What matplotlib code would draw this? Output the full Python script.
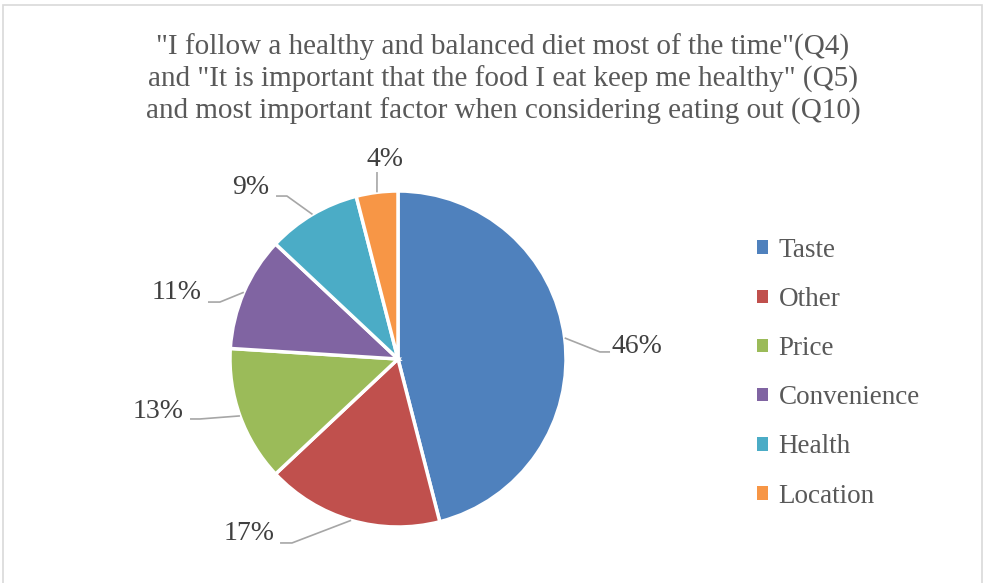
import matplotlib
matplotlib.use("Agg")
import matplotlib.pyplot as plt
from matplotlib.patches import Patch, Rectangle
import numpy as np

# ---- data ----
categories = ["Taste", "Other", "Price", "Convenience", "Health", "Location"]
shares = [46, 17, 13, 11, 9, 4]
colors = ["#4F81BD", "#C0504D", "#9BBB59", "#8064A2", "#4BACC6", "#F79646"]
title_lines = ['"I follow a healthy and balanced diet most of the time"(Q4)',
               'and "It is important that the food I eat keep me healthy" (Q5)',
               'and most important factor when considering eating out (Q10)']

# ---- layout (label text centres and leader elbows, in pie-radius units) ----
label_pos = [(1.423, 0.077), (-0.887, -1.036), (-1.429, -0.310),
             (-1.315, 0.393), (-0.875, 1.018), (-0.077, 1.185)]
elbows = [((1.202, 0.042), (1.262, 0.042)),
          ((-0.631, -1.095), (-0.702, -1.095)),
          ((-1.179, -0.357), (-1.238, -0.357)),
          ((-1.060, 0.339), (-1.131, 0.339)),
          ((-0.661, 0.970), (-0.726, 0.970)),
          ((-0.125, 1.113), (-0.125, 1.113))]

FONT = "Liberation Serif"
W, H, DPI = 984, 583, 100
cx, cy, R = 398, 359, 168  # pixel geometry of pie

fig = plt.figure(figsize=(W / DPI, H / DPI), dpi=DPI)
fig.patch.set_facecolor("white")
ax = fig.add_axes([0, 0, 1, 1])

wedges, _ = ax.pie(shares, colors=colors, startangle=90, counterclock=False,
                   radius=1, wedgeprops=dict(edgecolor="white", linewidth=2.5))
ax.set_aspect("auto")
ax.set_xlim(-cx / R, (W - cx) / R)
ax.set_ylim((cy - H) / R, cy / R)
ax.axis("off")

# data labels with leader lines
total = sum(shares)
for w, s, (tx, ty), (elb, end) in zip(wedges, shares, label_pos, elbows):
    mid = np.deg2rad((w.theta1 + w.theta2) / 2)
    px, py = np.cos(mid), np.sin(mid)
    ax.plot([px, elb[0], end[0]], [py, elb[1], end[1]], color="#A6A6A6",
            lw=1.2, solid_capstyle="butt", zorder=1)
    ax.text(tx, ty, f"{round(100 * s / total)}%", ha="center", va="center",
            fontsize=20, family=FONT, color="#404040")

# title
fig.text(503 / W, 1 - 79 / H, "\n".join(title_lines), ha="center", va="center",
         fontsize=21, family=FONT, color="#595959", linespacing=1.22)

# legend
handles = [Patch(facecolor=c, edgecolor="none") for c in colors]
leg = fig.legend(handles, categories, loc="upper left",
                 bbox_to_anchor=(757 / W, 1 - 238 / H), frameon=False,
                 prop=dict(family=FONT, size=19.5), labelcolor="#595959",
                 handlelength=0.4, handleheight=0.4, handletextpad=0.4,
                 labelspacing=0.89, borderpad=0, borderaxespad=0)

# chart border (bottom edge lies outside the picture, as in the original)
fig.patches.append(Rectangle((3 / W, -0.05), 979 / W, 1.05 - 5 / H,
                             transform=fig.transFigure,
                             fill=False, edgecolor="#D9D9D9", lw=1.2))

fig.savefig("out.png", dpi=DPI, facecolor="white")
